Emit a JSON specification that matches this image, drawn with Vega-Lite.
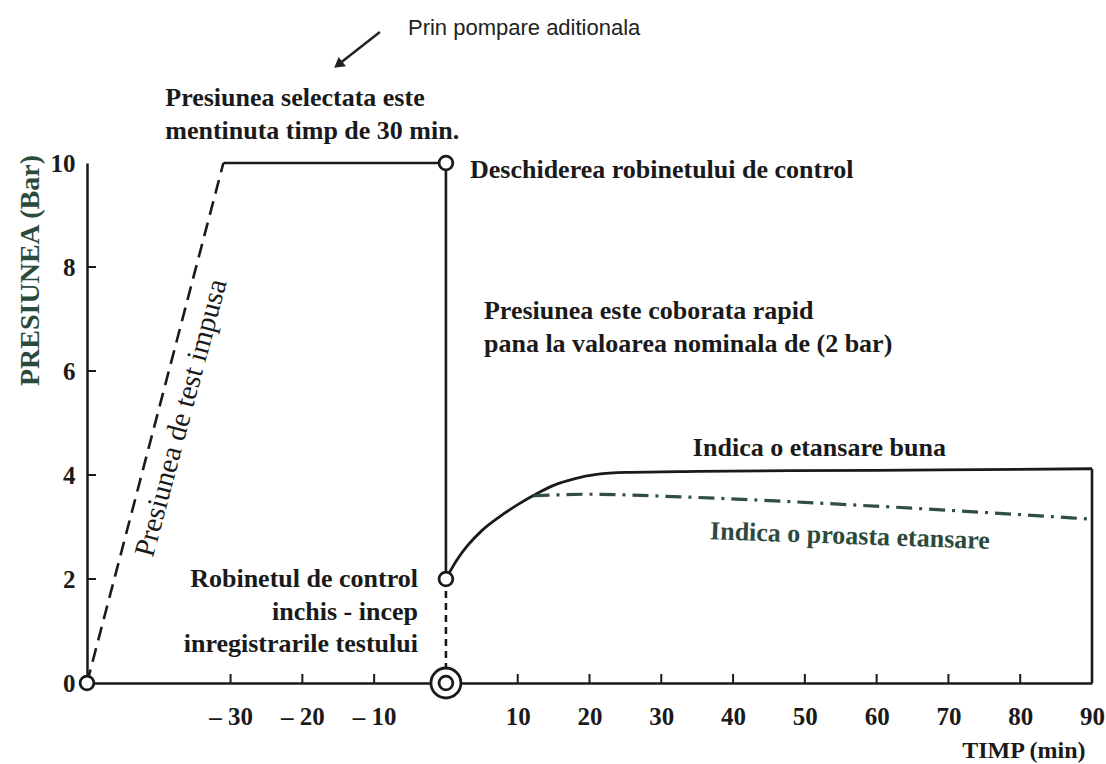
{
  "$schema": "https://vega.github.io/schema/vega-lite/v6.json",
  "width": 1005,
  "height": 520,
  "autosize": {"type": "none"},
  "padding": {"left": 87, "top": 163, "right": 14, "bottom": 81},
  "background": "white",
  "config": {"view": {"stroke": null}, "font": "Liberation Serif"},
  "datasets": {
    "lines": [
      {"grp": "solid", "seg": "hold", "ord": 1, "x": -31, "y": 10},
      {"grp": "solid", "seg": "hold", "ord": 2, "x": 0, "y": 10},
      {"grp": "solid", "seg": "hold", "ord": 3, "x": 0, "y": 2},
      {"grp": "solid", "seg": "end", "ord": 1, "x": 90, "y": 4.12},
      {"grp": "solid", "seg": "end", "ord": 2, "x": 90, "y": 0},
      {"grp": "dashed", "seg": "ramp", "ord": 1, "x": -50, "y": 0},
      {"grp": "dashed", "seg": "ramp", "ord": 2, "x": -31, "y": 10},
      {"grp": "dashed2", "seg": "drop", "ord": 1, "x": 0, "y": 2},
      {"grp": "dashed2", "seg": "drop", "ord": 2, "x": 0, "y": 0},
      {"grp": "curve", "seg": "good", "ord": 1, "x": 0, "y": 2.0},
      {"grp": "curve", "seg": "good", "ord": 2, "x": 1.5, "y": 2.36},
      {"grp": "curve", "seg": "good", "ord": 3, "x": 3, "y": 2.64},
      {"grp": "curve", "seg": "good", "ord": 4, "x": 5, "y": 2.93},
      {"grp": "curve", "seg": "good", "ord": 5, "x": 7.5, "y": 3.2},
      {"grp": "curve", "seg": "good", "ord": 6, "x": 10, "y": 3.43},
      {"grp": "curve", "seg": "good", "ord": 7, "x": 12.5, "y": 3.63},
      {"grp": "curve", "seg": "good", "ord": 8, "x": 15, "y": 3.8},
      {"grp": "curve", "seg": "good", "ord": 9, "x": 18, "y": 3.93},
      {"grp": "curve", "seg": "good", "ord": 10, "x": 21, "y": 4.01},
      {"grp": "curve", "seg": "good", "ord": 11, "x": 25, "y": 4.05},
      {"grp": "curve", "seg": "good", "ord": 12, "x": 35, "y": 4.07},
      {"grp": "curve", "seg": "good", "ord": 13, "x": 60, "y": 4.09},
      {"grp": "curve", "seg": "good", "ord": 14, "x": 90, "y": 4.12},
      {"grp": "leak", "seg": "bad", "ord": 1, "x": 12.2, "y": 3.6},
      {"grp": "leak", "seg": "bad", "ord": 2, "x": 20, "y": 3.63},
      {"grp": "leak", "seg": "bad", "ord": 3, "x": 32.7, "y": 3.58},
      {"grp": "leak", "seg": "bad", "ord": 4, "x": 60, "y": 3.4},
      {"grp": "leak", "seg": "bad", "ord": 5, "x": 90, "y": 3.15},
      {"grp": "arrow", "seg": "arrow", "ord": 1, "x": -9.2, "y": 12.52},
      {"grp": "arrow", "seg": "arrow", "ord": 2, "x": -15.2, "y": 11.87}
    ],
    "markers": [
      {"kind": "node", "x": -50, "y": 0},
      {"kind": "node", "x": 0, "y": 10},
      {"kind": "node", "x": 0, "y": 2},
      {"kind": "ring", "x": 0, "y": 0},
      {"kind": "node", "x": 0, "y": 0}
    ],
    "heads": [
      {"x": -15.0, "y": 11.89}
    ],
    "xticks": [
      {"x": -30, "y": 0}, {"x": -20, "y": 0}, {"x": -10, "y": 0},
      {"x": 10, "y": 0}, {"x": 20, "y": 0}, {"x": 30, "y": 0}, {"x": 40, "y": 0},
      {"x": 50, "y": 0}, {"x": 60, "y": 0}, {"x": 70, "y": 0}, {"x": 80, "y": 0}
    ],
    "yticks": [
      {"x": -50, "y": 2}, {"x": -50, "y": 4}, {"x": -50, "y": 6}, {"x": -50, "y": 8}
    ],
    "notes": [
      {"grp": "left", "text": "Presiunea selectata este", "x": -39.1, "y": 11.25},
      {"grp": "left", "text": "mentinuta timp de 30 min.", "x": -39.1, "y": 10.62},
      {"grp": "left", "text": "Deschiderea robinetului de control", "x": 3.35, "y": 9.87},
      {"grp": "left", "text": "Presiunea este coborata rapid", "x": 5.3, "y": 7.15},
      {"grp": "left", "text": "pana la valoarea nominala de (2 bar)", "x": 5.3, "y": 6.52},
      {"grp": "left", "text": "Indica o etansare buna", "x": 34.4, "y": 4.52},
      {"grp": "green", "text": "Indica o proasta etansare", "x": 36.8, "y": 2.92},
      {"grp": "right", "text": "Robinetul de control", "x": -3.9, "y": 2.0},
      {"grp": "right", "text": "inchis - incep", "x": -3.9, "y": 1.37},
      {"grp": "right", "text": "inregistrarile testului", "x": -3.9, "y": 0.75},
      {"grp": "sans", "text": "Prin pompare aditionala", "x": -5.29, "y": 12.6},
      {"grp": "slant", "text": "Presiunea de test impusa", "x": -36.9, "y": 5.1}
    ]
  },
  "encoding": {
    "x": {
      "field": "x",
      "type": "quantitative",
      "scale": {"domain": [-50, 90], "nice": false, "zero": false},
      "axis": {
        "title": "TIMP (min)",
        "titleFont": "Liberation Serif",
        "titleFontWeight": "bold",
        "titleFontSize": 24,
        "titleColor": "#1a1a1a",
        "titleAnchor": "end",
        "titleAlign": "right",
        "titleBaseline": "middle",
        "titleX": 998,
        "titleY": 67,
        "values": [-30, -20, -10, 10, 20, 30, 40, 50, 60, 70, 80, 90],
        "labelExpr": "datum.value < 0 ? '– ' + abs(datum.value) : datum.label",
        "labelFont": "Liberation Serif",
        "labelFontWeight": "bold",
        "labelFontSize": 25,
        "labelColor": "#1a1a1a",
        "labelPadding": 21,
        "labelFlush": false,
        "labelOverlap": false,
        "ticks": false,
        "domainColor": "#1a1a1a",
        "domainWidth": 2.5,
        "grid": false
      }
    },
    "y": {
      "field": "y",
      "type": "quantitative",
      "scale": {"domain": [0, 10], "nice": false, "zero": false},
      "axis": {
        "title": "PRESIUNEA (Bar)",
        "titleFont": "Liberation Serif",
        "titleFontWeight": "bold",
        "titleFontSize": 28,
        "titleColor": "#2c4a3c",
        "titleAngle": -90,
        "titleAlign": "center",
        "titleBaseline": "middle",
        "titleX": -57,
        "titleY": 107,
        "values": [0, 2, 4, 6, 8, 10],
        "labelFont": "Liberation Serif",
        "labelFontWeight": "bold",
        "labelFontSize": 25,
        "labelColor": "#1a1a1a",
        "labelPadding": 12,
        "labelFlush": false,
        "labelOverlap": false,
        "ticks": false,
        "domainColor": "#1a1a1a",
        "domainWidth": 2.5,
        "grid": false
      }
    }
  },
  "layer": [
    {
      "data": {"name": "xticks"},
      "mark": {"type": "tick", "orient": "vertical", "size": 9, "thickness": 2, "yOffset": -4.5, "color": "#1a1a1a", "opacity": 1}
    },
    {
      "data": {"name": "yticks"},
      "mark": {"type": "tick", "orient": "horizontal", "size": 9, "thickness": 2, "xOffset": 4.5, "color": "#1a1a1a", "opacity": 1}
    },
    {
      "data": {"name": "lines"},
      "transform": [{"filter": "datum.grp == 'solid'"}],
      "mark": {"type": "line", "color": "#1a1a1a", "strokeWidth": 2.6},
      "encoding": {"detail": {"field": "seg"}, "order": {"field": "ord"}}
    },
    {
      "data": {"name": "lines"},
      "transform": [{"filter": "datum.grp == 'dashed'"}],
      "mark": {"type": "line", "color": "#1a1a1a", "strokeWidth": 2.6, "strokeDash": [14, 8]},
      "encoding": {"detail": {"field": "seg"}, "order": {"field": "ord"}}
    },
    {
      "data": {"name": "lines"},
      "transform": [{"filter": "datum.grp == 'dashed2'"}],
      "mark": {"type": "line", "color": "#1a1a1a", "strokeWidth": 2.6, "strokeDash": [7, 5]},
      "encoding": {"detail": {"field": "seg"}, "order": {"field": "ord"}}
    },
    {
      "data": {"name": "lines"},
      "transform": [{"filter": "datum.grp == 'curve'"}],
      "mark": {"type": "line", "color": "#1a1a1a", "strokeWidth": 2.8, "interpolate": "monotone"},
      "encoding": {"order": {"field": "ord"}}
    },
    {
      "data": {"name": "lines"},
      "transform": [{"filter": "datum.grp == 'leak'"}],
      "mark": {"type": "line", "color": "#2f4f40", "strokeWidth": 3.2, "strokeDash": [16, 7, 3, 7], "interpolate": "monotone"},
      "encoding": {"order": {"field": "ord"}}
    },
    {
      "data": {"name": "lines"},
      "transform": [{"filter": "datum.grp == 'arrow'"}],
      "mark": {"type": "line", "color": "#222222", "strokeWidth": 2.5},
      "encoding": {"order": {"field": "ord"}}
    },
    {
      "data": {"name": "heads"},
      "mark": {"type": "point", "shape": "triangle-up", "filled": true, "color": "#222222", "size": 140, "angle": 232, "opacity": 1}
    },
    {
      "data": {"name": "markers"},
      "mark": {"type": "point", "shape": "circle", "filled": true, "fill": "white", "stroke": "#1a1a1a", "strokeWidth": 2.8, "opacity": 1},
      "encoding": {
        "size": {"field": "kind", "type": "nominal", "scale": {"domain": ["node", "ring"], "range": [190, 900]}, "legend": null}
      }
    },
    {
      "data": {"name": "notes"},
      "transform": [{"filter": "datum.grp == 'left'"}],
      "mark": {"type": "text", "align": "left", "baseline": "middle", "font": "Liberation Serif", "fontWeight": "bold", "fontSize": 26, "color": "#1a1a1a"},
      "encoding": {"text": {"field": "text"}}
    },
    {
      "data": {"name": "notes"},
      "transform": [{"filter": "datum.grp == 'green'"}],
      "mark": {"type": "text", "align": "left", "baseline": "middle", "font": "Liberation Serif", "fontWeight": "bold", "fontSize": 26, "color": "#2c4a3c", "angle": 2},
      "encoding": {"text": {"field": "text"}}
    },
    {
      "data": {"name": "notes"},
      "transform": [{"filter": "datum.grp == 'right'"}],
      "mark": {"type": "text", "align": "right", "baseline": "middle", "font": "Liberation Serif", "fontWeight": "bold", "fontSize": 26, "color": "#1a1a1a"},
      "encoding": {"text": {"field": "text"}}
    },
    {
      "data": {"name": "notes"},
      "transform": [{"filter": "datum.grp == 'sans'"}],
      "mark": {"type": "text", "align": "left", "baseline": "middle", "font": "Liberation Sans", "fontWeight": "normal", "fontSize": 22, "letterSpacing": 2.3, "color": "#222222"},
      "encoding": {"text": {"field": "text"}}
    },
    {
      "data": {"name": "notes"},
      "transform": [{"filter": "datum.grp == 'slant'"}],
      "mark": {"type": "text", "align": "center", "baseline": "middle", "font": "Liberation Serif", "fontWeight": "normal", "fontSize": 29, "color": "#1a1a1a", "angle": -75},
      "encoding": {"text": {"field": "text"}}
    }
  ]
}
